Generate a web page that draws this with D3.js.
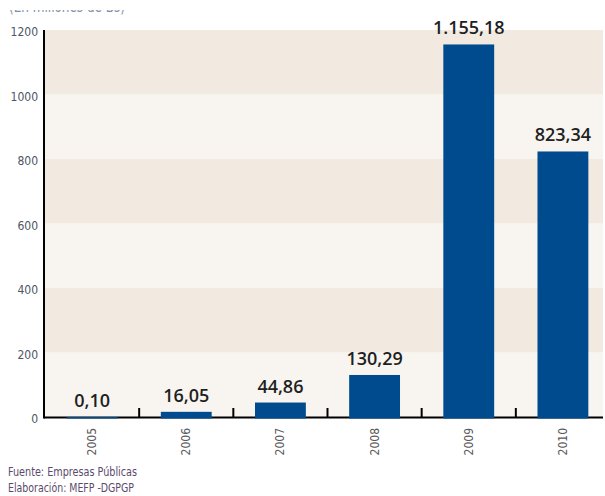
<!DOCTYPE html>
<html><head><meta charset="utf-8">
<script src="https://cdn.jsdelivr.net/npm/d3@7"></script>
<style>body{margin:0;background:#fff}svg{display:block}</style>
</head><body>
<script>
const years = ["2005","2006","2007","2008","2009","2010"];
const values = [0.10, 16.05, 44.86, 130.29, 1155.18, 823.34];
const valueLabels = ["0,10","16,05","44,86","130,29","1.155,18","823,34"];
const yTicks = [0,200,400,600,800,1000,1200];
const title = "(En millones de Bs)";
const notes = ["Fuente: Empresas Públicas","Elaboración: MEFP -DGPGP"];

const W=605,H=496;
const svg=d3.select("body").append("svg").attr("width",W).attr("height",H);
const narrow='"Liberation Sans Narrow","DejaVu Sans Condensed","Open Sans",sans-serif';

const x=d3.scaleBand().domain(years).range([45,610]).paddingInner(0.46).paddingOuter(0.23);
const y=d3.scaleLinear().domain([0,1200]).range([417,30]);

// bands
const bandG=svg.append("g");
for(let i=0;i<yTicks.length-1;i++){
  bandG.append("rect").attr("x",45).attr("width",603-45)
    .attr("y",y(yTicks[i+1])).attr("height",y(yTicks[i])-y(yTicks[i+1]))
    .attr("fill", i%2===0 ? "#f8f5f1" : "#f2e9e0");
}

// title clipped
svg.append("clipPath").attr("id","tc").append("rect").attr("x",0).attr("y",10).attr("width",300).attr("height",10);
svg.append("text").attr("clip-path","url(#tc)").attr("x",9).attr("y",12)
  .attr("font-family",narrow).attr("font-size",15).attr("fill","#7f8fa6")
  .attr("textLength",116).attr("lengthAdjust","spacingAndGlyphs").text(title);

// x axis ticks at category boundaries
const step=x.step();
const tg=svg.append("g");
for(let k=1;k<years.length;k++){
  const xx=x.range()[0]+k*step;
  tg.append("line").attr("x1",xx).attr("x2",xx).attr("y1",408).attr("y2",417).attr("stroke","#000").attr("stroke-width",2);
}
// axes lines
svg.append("line").attr("x1",44).attr("x2",603).attr("y1",417.5).attr("y2",417.5).attr("stroke","#000").attr("stroke-width",2);
svg.append("line").attr("x1",44).attr("x2",44).attr("y1",30).attr("y2",418.5).attr("stroke","#000").attr("stroke-width",2);

// bars (drawn over the axis line)
svg.append("g").selectAll("rect").data(values).join("rect")
  .attr("x",(d,i)=>x(years[i])).attr("width",x.bandwidth())
  .attr("y",d=>y(d)).attr("height",d=>y(0)-y(d)+1.5).attr("fill","#004b8d");

// value labels
svg.append("g").selectAll("text").data(values).join("text")
  .attr("x",(d,i)=>x(years[i])+x.bandwidth()/2).attr("y",d=>y(d)-10)
  .attr("text-anchor","middle").attr("font-family",'"Open Sans",sans-serif')
  .attr("font-size",18).attr("font-weight",600).attr("fill","#1f1f1f")
  .text((d,i)=>valueLabels[i]);

// y labels
const yAxis=d3.axisLeft(y).tickValues(yTicks).tickSize(0).tickPadding(0).tickFormat(d3.format("d"));
const ya=svg.append("g").attr("transform","translate(38,2)").call(yAxis);
ya.select(".domain").remove();
ya.selectAll("text").attr("font-family",narrow).attr("font-size",12).attr("fill","#4d5566");

// x labels
svg.append("g").selectAll("text").data(years).join("text")
  .attr("transform",d=>`translate(${x(d)+x.bandwidth()/2+4},428) rotate(-90)`)
  .attr("text-anchor","end").attr("font-family",narrow).attr("font-size",12).attr("fill","#5a5a5a")
  .text(d=>d);

// notes
const noteLen=[129,126];
svg.append("g").selectAll("text").data(notes).join("text")
  .attr("x",8).attr("y",(d,i)=>476+i*16)
  .attr("textLength",(d,i)=>noteLen[i]).attr("lengthAdjust","spacingAndGlyphs")
  .attr("font-family",narrow).attr("font-size",12).attr("fill","#5b4a6b").text(d=>d);
</script>
</body></html>
